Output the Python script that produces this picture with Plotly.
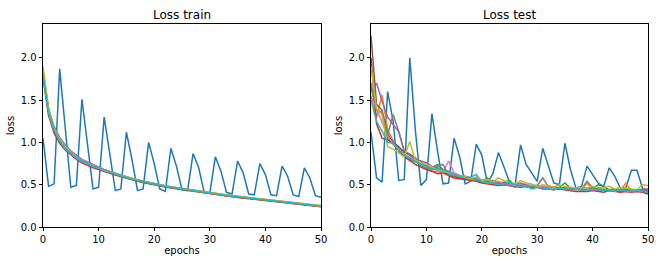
import plotly.graph_objects as go

epochs = list(range(51))
series_names = ["run 0", "run 1", "run 2", "run 3", "run 4", "run 5", "run 6", "run 7", "run 8", "run 9"]
colors = ["#1f77b4", "#ff7f0e", "#2ca02c", "#d62728", "#9467bd",
          "#8c564b", "#e377c2", "#7f7f7f", "#bcbd22", "#17becf"]
x_ticks = [0, 10, 20, 30, 40, 50]
y_ticks = [0.0, 0.5, 1.0, 1.5, 2.0]

# ---- Loss train ----
train_0 = [1.05,0.48,0.51,1.87,1.17,0.47,0.49,1.51,0.98,0.45,0.47,1.30,0.87,0.43,0.45,1.12,0.80,0.43,0.45,1.00,0.75,0.45,0.42,0.93,0.72,0.44,0.43,0.87,0.70,0.41,0.40,0.83,0.66,0.41,0.39,0.78,0.64,0.39,0.38,0.75,0.62,0.38,0.37,0.72,0.60,0.38,0.36,0.70,0.58,0.37,0.35]
train_1 = [1.86,1.39,1.17,1.04,0.94,0.88,0.82,0.78,0.75,0.72,0.70,0.67,0.65,0.63,0.61,0.59,0.57,0.555,0.54,0.525,0.51,0.495,0.485,0.475,0.465,0.455,0.445,0.435,0.425,0.41,0.40,0.393,0.385,0.377,0.37,0.362,0.355,0.348,0.34,0.333,0.325,0.317,0.31,0.303,0.296,0.289,0.281,0.274,0.266,0.258,0.251]
train_2 = [1.83,1.36,1.15,1.02,0.93,0.87,0.82,0.78,0.75,0.72,0.70,0.67,0.65,0.63,0.605,0.585,0.565,0.55,0.535,0.52,0.505,0.49,0.48,0.47,0.46,0.45,0.44,0.43,0.42,0.405,0.395,0.388,0.38,0.372,0.365,0.357,0.35,0.343,0.335,0.328,0.32,0.312,0.305,0.298,0.29,0.283,0.275,0.268,0.26,0.252,0.245]
train_3 = [1.76,1.32,1.11,0.99,0.91,0.85,0.80,0.76,0.73,0.70,0.68,0.655,0.635,0.615,0.595,0.575,0.555,0.54,0.525,0.51,0.495,0.482,0.472,0.462,0.452,0.442,0.432,0.422,0.412,0.40,0.39,0.382,0.374,0.366,0.358,0.35,0.343,0.336,0.328,0.321,0.314,0.306,0.299,0.292,0.285,0.278,0.27,0.263,0.255,0.247,0.238]
train_4 = [1.84,1.40,1.19,1.06,0.97,0.90,0.85,0.80,0.77,0.74,0.71,0.68,0.66,0.635,0.61,0.59,0.57,0.555,0.54,0.525,0.51,0.495,0.485,0.472,0.462,0.452,0.441,0.431,0.421,0.408,0.398,0.39,0.382,0.374,0.366,0.358,0.351,0.344,0.336,0.329,0.321,0.313,0.306,0.299,0.291,0.284,0.276,0.269,0.261,0.253,0.246]
train_5 = [1.82,1.36,1.14,1.01,0.93,0.86,0.81,0.77,0.74,0.71,0.69,0.665,0.645,0.625,0.60,0.58,0.56,0.545,0.53,0.515,0.50,0.488,0.478,0.467,0.457,0.447,0.437,0.427,0.417,0.403,0.393,0.386,0.378,0.37,0.363,0.355,0.348,0.341,0.333,0.326,0.318,0.31,0.303,0.296,0.288,0.281,0.273,0.266,0.258,0.25,0.243]
train_6 = [1.85,1.38,1.16,1.03,0.94,0.88,0.83,0.79,0.755,0.725,0.705,0.675,0.655,0.635,0.61,0.59,0.57,0.553,0.538,0.523,0.508,0.493,0.483,0.472,0.462,0.451,0.441,0.431,0.421,0.407,0.397,0.389,0.381,0.373,0.366,0.358,0.351,0.344,0.336,0.329,0.321,0.313,0.306,0.299,0.291,0.284,0.276,0.269,0.261,0.253,0.246]
train_7 = [1.81,1.35,1.14,1.01,0.92,0.86,0.81,0.77,0.74,0.71,0.69,0.665,0.645,0.625,0.60,0.58,0.562,0.547,0.532,0.517,0.502,0.488,0.478,0.468,0.458,0.448,0.438,0.428,0.418,0.404,0.394,0.387,0.379,0.371,0.364,0.356,0.349,0.342,0.334,0.327,0.319,0.311,0.304,0.297,0.289,0.282,0.274,0.267,0.259,0.251,0.244]
train_8 = [1.90,1.40,1.17,1.04,0.95,0.88,0.82,0.78,0.75,0.72,0.70,0.67,0.65,0.63,0.61,0.59,0.57,0.555,0.54,0.525,0.51,0.497,0.487,0.477,0.467,0.457,0.447,0.437,0.427,0.413,0.403,0.396,0.388,0.38,0.373,0.365,0.358,0.351,0.343,0.336,0.328,0.32,0.313,0.306,0.298,0.291,0.283,0.276,0.268,0.26,0.253]
train_9 = [1.80,1.36,1.15,1.02,0.93,0.87,0.82,0.78,0.75,0.72,0.70,0.672,0.652,0.632,0.607,0.587,0.567,0.552,0.537,0.522,0.507,0.492,0.482,0.472,0.462,0.452,0.442,0.432,0.422,0.407,0.397,0.39,0.382,0.374,0.367,0.359,0.352,0.345,0.337,0.33,0.322,0.314,0.307,0.3,0.292,0.285,0.277,0.27,0.262,0.254,0.247]

# ---- Loss test ----
test_0 = [1.12,0.58,0.53,1.60,1.25,0.55,0.56,2.00,1.15,0.49,0.56,1.34,0.90,0.51,0.52,1.05,0.83,0.51,0.54,0.98,0.85,0.52,0.63,0.88,0.71,0.53,0.49,0.97,0.74,0.64,0.54,0.93,0.72,0.52,0.50,0.99,0.68,0.46,0.48,0.72,0.62,0.52,0.48,0.70,0.60,0.46,0.46,0.67,0.67,0.46,0.42]
test_1 = [1.55,1.30,1.56,1.15,1.02,0.93,0.86,0.80,0.78,0.74,0.72,0.66,0.66,0.64,0.62,0.60,0.58,0.57,0.56,0.55,0.53,0.53,0.51,0.52,0.50,0.50,0.49,0.49,0.48,0.48,0.47,0.47,0.46,0.46,0.45,0.47,0.45,0.45,0.44,0.52,0.45,0.44,0.45,0.44,0.43,0.43,0.52,0.43,0.44,0.43,0.44]
test_2 = [1.65,1.38,1.35,1.05,0.98,0.92,0.85,0.80,0.77,0.74,0.72,0.70,0.74,0.68,0.62,0.60,0.58,0.57,0.57,0.55,0.54,0.58,0.52,0.52,0.52,0.55,0.49,0.50,0.48,0.47,0.48,0.48,0.46,0.46,0.47,0.52,0.46,0.45,0.45,0.46,0.45,0.50,0.48,0.44,0.45,0.43,0.44,0.44,0.43,0.44,0.43]
test_3 = [2.00,1.22,1.05,1.03,0.99,0.90,0.83,0.78,0.74,0.71,0.68,0.66,0.63,0.64,0.61,0.58,0.57,0.56,0.55,0.54,0.52,0.51,0.50,0.49,0.50,0.49,0.48,0.47,0.48,0.46,0.47,0.45,0.45,0.44,0.45,0.44,0.43,0.42,0.42,0.42,0.43,0.42,0.41,0.43,0.42,0.41,0.42,0.41,0.42,0.41,0.39]
test_4 = [1.60,1.70,1.49,1.30,1.21,1.13,0.89,0.84,0.80,0.78,0.76,0.72,0.70,0.67,0.66,0.63,0.61,0.60,0.58,0.57,0.56,0.54,0.55,0.53,0.52,0.51,0.50,0.52,0.50,0.49,0.49,0.48,0.47,0.48,0.46,0.46,0.45,0.46,0.45,0.45,0.44,0.45,0.44,0.44,0.45,0.44,0.43,0.44,0.43,0.45,0.45]
test_5 = [2.26,1.45,1.38,1.10,1.00,0.95,0.88,0.86,0.80,0.76,0.73,0.71,0.69,0.67,0.63,0.61,0.60,0.58,0.57,0.56,0.55,0.54,0.53,0.52,0.53,0.50,0.48,0.50,0.49,0.47,0.48,0.47,0.46,0.46,0.45,0.46,0.44,0.45,0.44,0.46,0.45,0.44,0.44,0.43,0.44,0.43,0.44,0.43,0.42,0.43,0.42]
test_6 = [1.55,1.40,1.25,1.08,0.98,0.92,0.86,0.82,0.79,0.76,0.74,0.70,0.67,0.65,0.78,0.64,0.61,0.60,0.58,0.55,0.56,0.53,0.52,0.54,0.51,0.50,0.49,0.50,0.48,0.49,0.47,0.48,0.47,0.45,0.46,0.45,0.46,0.44,0.46,0.45,0.44,0.45,0.44,0.43,0.44,0.44,0.43,0.42,0.43,0.43,0.42]
test_7 = [1.70,1.39,1.35,1.09,1.33,1.13,0.90,0.86,0.82,0.72,0.70,0.69,0.72,0.74,0.62,0.61,0.60,0.58,0.56,0.55,0.54,0.53,0.52,0.51,0.50,0.49,0.47,0.49,0.48,0.47,0.49,0.58,0.48,0.47,0.46,0.45,0.46,0.44,0.45,0.54,0.46,0.45,0.44,0.43,0.45,0.44,0.43,0.44,0.42,0.43,0.41]
test_8 = [1.90,1.40,1.33,0.95,0.92,0.88,0.83,1.01,0.79,0.76,0.74,0.71,0.68,0.66,0.64,0.62,0.60,0.59,0.57,0.59,0.55,0.56,0.53,0.58,0.55,0.53,0.51,0.55,0.52,0.51,0.48,0.50,0.49,0.47,0.50,0.48,0.47,0.46,0.47,0.46,0.48,0.47,0.46,0.48,0.45,0.47,0.46,0.45,0.44,0.50,0.49]
test_9 = [1.50,1.25,1.13,1.00,0.99,0.91,0.85,0.81,0.77,0.74,0.72,0.68,0.69,0.67,0.65,0.62,0.60,0.58,0.59,0.62,0.53,0.52,0.52,0.50,0.51,0.53,0.50,0.48,0.49,0.45,0.47,0.46,0.45,0.44,0.46,0.45,0.44,0.45,0.44,0.43,0.45,0.44,0.43,0.44,0.42,0.44,0.43,0.42,0.44,0.42,0.41]

train = [train_0, train_1, train_2, train_3, train_4, train_5, train_6, train_7, train_8, train_9]
test = [test_0, test_1, test_2, test_3, test_4, test_5, test_6, test_7, test_8, test_9]

fig = go.Figure()
for i, ys in enumerate(train):
    fig.add_trace(go.Scatter(x=epochs, y=ys, mode="lines", name=series_names[i],
                             line=dict(color=colors[i], width=1.5),
                             xaxis="x", yaxis="y", showlegend=False))
for i, ys in enumerate(test):
    fig.add_trace(go.Scatter(x=epochs, y=ys, mode="lines", name=series_names[i],
                             line=dict(color=colors[i], width=1.5),
                             xaxis="x2", yaxis="y2", showlegend=False))

W, H = 664, 266
ml, mr, mt, mb = 43, 16, 24, 39
pw = W - ml - mr
d1 = (321 - ml) / pw
d2 = (371 - ml) / pw

font = dict(family="DejaVu Sans", size=10, color="black")
axis_common = dict(showline=True, linecolor="black", linewidth=0.8, mirror=True,
                   ticks="outside", ticklen=3.5, tickwidth=0.8, tickcolor="black",
                   showgrid=False, zeroline=False, tickfont=font, automargin=False)

fig.update_layout(
    width=W, height=H,
    margin=dict(l=ml, r=mr, t=mt, b=mb, autoexpand=False),
    paper_bgcolor="white", plot_bgcolor="white",
    font=font,
    xaxis=dict(domain=[0, d1], range=[0, 50], tickvals=x_ticks, anchor="y",
               title=dict(text="epochs", font=font, standoff=2), **axis_common),
    yaxis=dict(domain=[0, 1], range=[0, 2.4], tickvals=y_ticks, tickformat=".1f", anchor="x",
               title=dict(text="loss", font=font, standoff=4), **axis_common),
    xaxis2=dict(domain=[d2, 1], range=[0, 50], tickvals=x_ticks, anchor="y2",
                title=dict(text="epochs", font=font, standoff=2), **axis_common),
    yaxis2=dict(domain=[0, 1], range=[0, 2.4], tickvals=y_ticks, tickformat=".1f", anchor="x2",
                title=dict(text="loss", font=font, standoff=4), **axis_common),
    annotations=[
        dict(text="Loss train", x=d1 / 2, y=1, xref="paper", yref="paper",
             xanchor="center", yanchor="bottom", yshift=0, showarrow=False,
             font=dict(family="DejaVu Sans", size=12, color="black")),
        dict(text="Loss test", x=(d2 + 1) / 2, y=1, xref="paper", yref="paper",
             xanchor="center", yanchor="bottom", yshift=0, showarrow=False,
             font=dict(family="DejaVu Sans", size=12, color="black")),
    ],
)

fig.write_html("out.html", config={"displayModeBar": False},
               post_script="document.body.style.margin='0';document.body.style.overflow='hidden';")
